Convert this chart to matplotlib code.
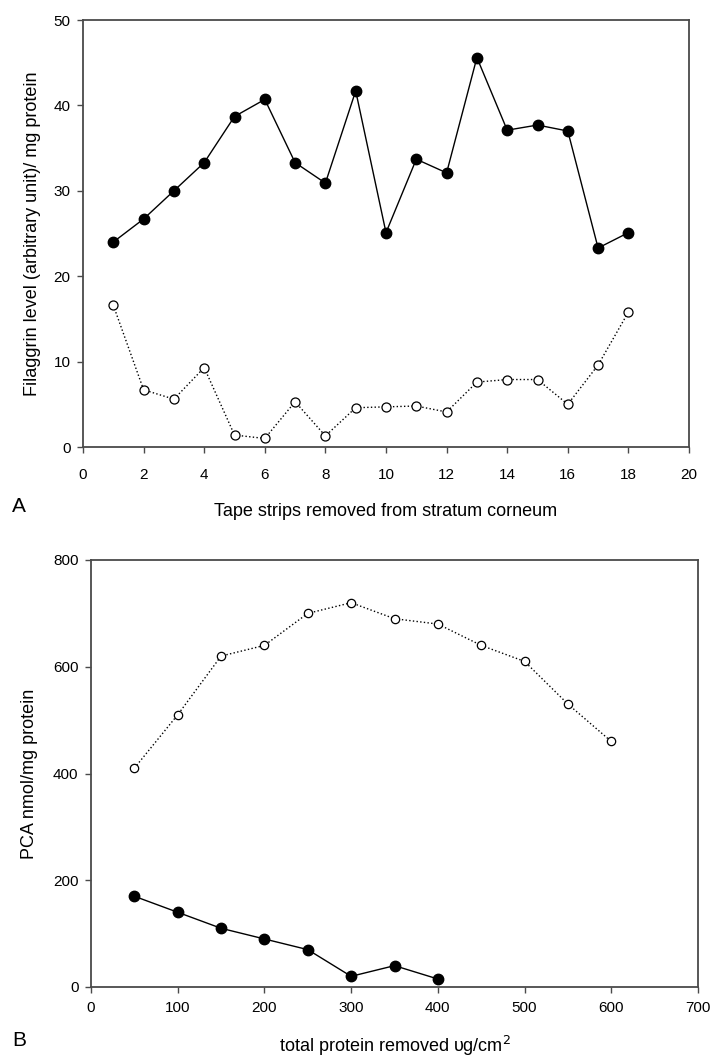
import matplotlib
matplotlib.use("Agg")
import matplotlib.pyplot as plt

plt.rcParams['font.family'] = ['Liberation Sans', 'DejaVu Sans']

# Panel A data
strips = [1, 2, 3, 4, 5, 6, 7, 8, 9, 10, 11, 12, 13, 14, 15, 16, 17, 18]
filaggrin_filled = [24.0, 26.7, 30.0, 33.3, 38.7, 40.7, 33.3, 30.9, 41.7, 25.1,
                    33.7, 32.1, 45.6, 37.1, 37.7, 37.0, 23.3, 25.1]
filaggrin_open = [16.6, 6.7, 5.6, 9.3, 1.4, 1.0, 5.3, 1.3, 4.6, 4.7,
                  4.8, 4.1, 7.6, 7.9, 7.9, 5.0, 9.6, 15.8]
xticks_a = [0, 2, 4, 6, 8, 10, 12, 14, 16, 18, 20]
yticks_a = [0, 10, 20, 30, 40, 50]

# Panel B data
protein_open = [50, 100, 150, 200, 250, 300, 350, 400, 450, 500, 550, 600]
pca_open = [410, 510, 620, 640, 700, 720, 690, 680, 640, 610, 530, 460]
protein_filled = [50, 100, 150, 200, 250, 300, 350, 400]
pca_filled = [170, 140, 110, 90, 70, 20, 40, 15]
xticks_b = [0, 100, 200, 300, 400, 500, 600, 700]
yticks_b = [0, 200, 400, 600, 800]

W, H = 715, 1061
fig = plt.figure(figsize=(W / 100, H / 100), dpi=100)

spine_color = '#4a4a4a'

def style(ax, xpad):
    for s in ax.spines.values():
        s.set_color(spine_color)
        s.set_linewidth(1.3)
    ax.tick_params(direction='out', length=4, width=1, color=spine_color,
                   labelsize=11)
    ax.tick_params(axis='y', pad=5)
    ax.tick_params(axis='x', pad=xpad)

# Panel A
axA = fig.add_axes([83 / W, 1 - 447 / H, (689 - 83) / W, (447 - 20) / H])
axA.plot(strips, filaggrin_filled, '-', color='black', lw=1.0, marker='o',
         markersize=7.5, markerfacecolor='black', markeredgecolor='black')
axA.plot(strips, filaggrin_open, ':', color='black', lw=1.0, marker='o',
         markersize=6.5, markerfacecolor='white', markeredgecolor='black',
         markeredgewidth=0.9)
axA.set_xlim(0, 20)
axA.set_ylim(0, 50)
axA.set_xticks(xticks_a)
axA.set_yticks(yticks_a)
style(axA, 11)
axA.set_ylabel('Filaggrin level (arbitrary unit)/ mg protein', fontsize=13, labelpad=9)
axA.set_xlabel('Tape strips removed from stratum corneum', fontsize=13, labelpad=15)
fig.text(12 / W, 1 - 507 / H, 'A', fontsize=15, va='center', ha='left')

# Panel B
axB = fig.add_axes([91 / W, 1 - 987 / H, (698 - 91) / W, (987 - 560) / H])
axB.plot(protein_open, pca_open, ':', color='black', lw=1.0, marker='o',
         markersize=6, markerfacecolor='white', markeredgecolor='black',
         markeredgewidth=0.9)
axB.plot(protein_filled, pca_filled, '-', color='black', lw=1.0, marker='o',
         markersize=7.5, markerfacecolor='black', markeredgecolor='black')
axB.set_xlim(0, 700)
axB.set_ylim(0, 800)
axB.set_xticks(xticks_b)
axB.set_yticks(yticks_b)
style(axB, 6)
axB.set_ylabel('PCA nmol/mg protein', fontsize=13, labelpad=11)
axB.set_xlabel('total protein removed \u03c5g/cm$^2$', fontsize=13, labelpad=14)
fig.text(12 / W, 1 - 1040 / H, 'B', fontsize=15, va='center', ha='left')

fig.savefig('out.png', dpi=100)
